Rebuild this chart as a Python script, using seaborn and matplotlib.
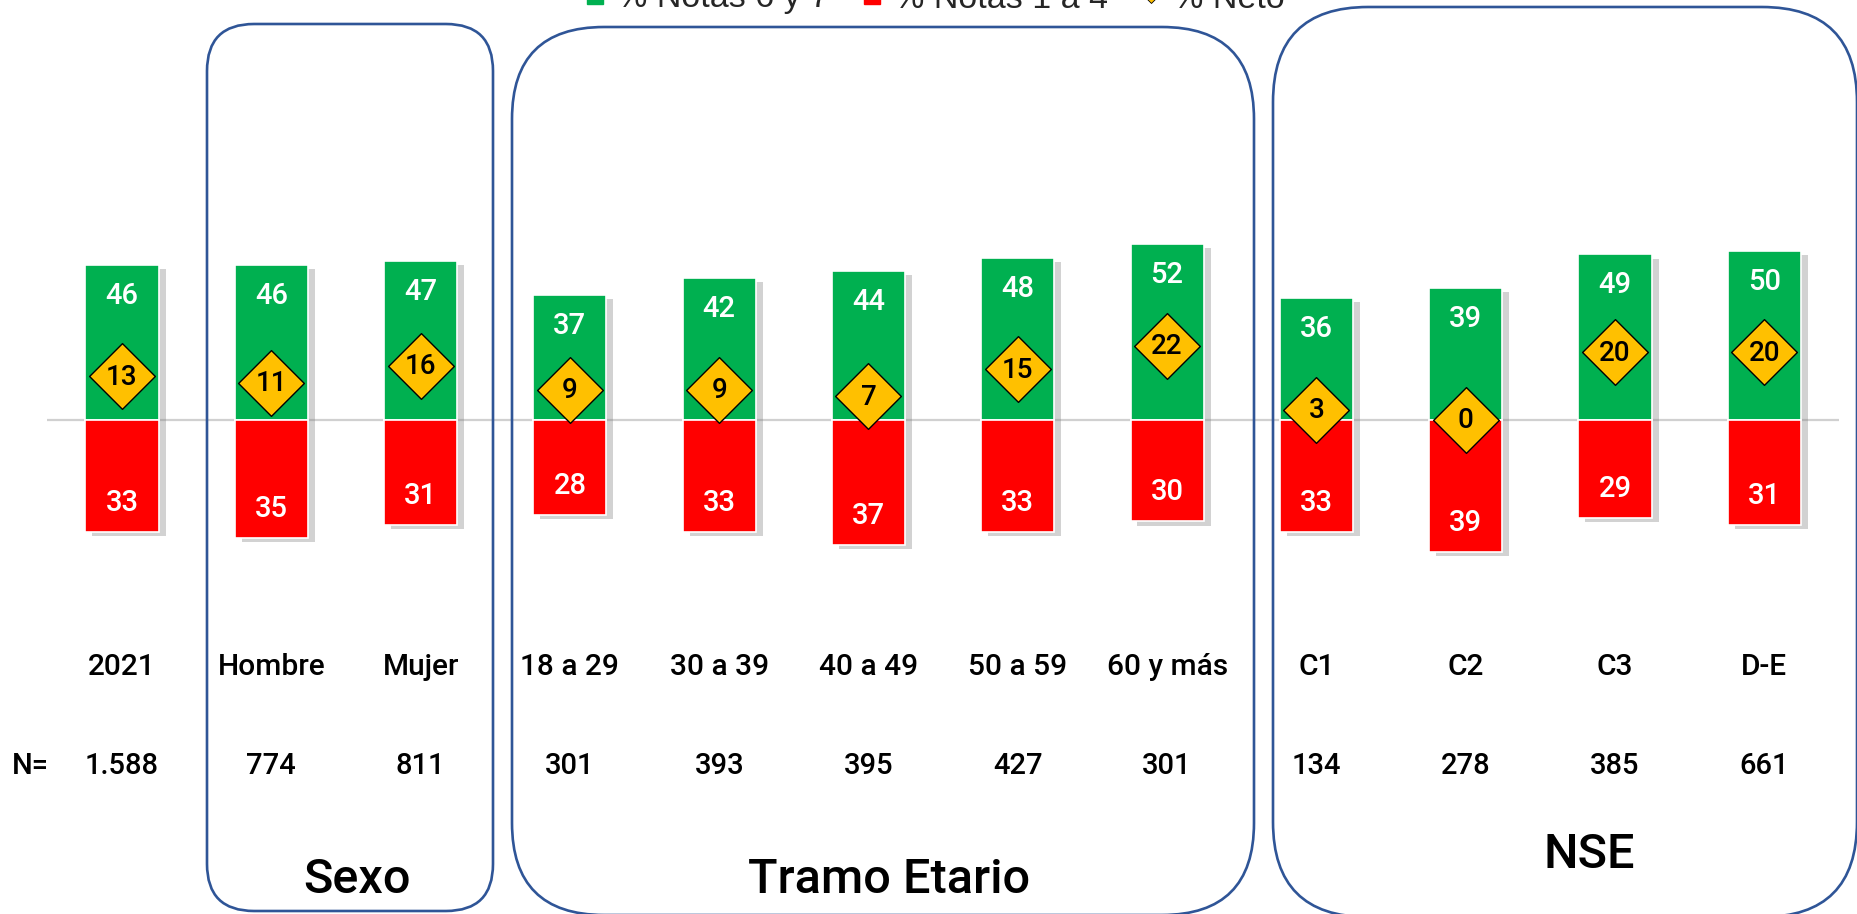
import matplotlib
matplotlib.use("Agg")
import matplotlib.pyplot as plt
import seaborn as sns
import pandas as pd
import numpy as np
from matplotlib.patches import FancyBboxPatch
from matplotlib.lines import Line2D
from matplotlib import patheffects as pe

# ---- data -------------------------------------------------------------
categorias = ["2021", "Hombre", "Mujer", "18 a 29", "30 a 39", "40 a 49",
              "50 a 59", "60 y más", "C1", "C2", "C3", "D-E"]
notas_6_7 = [46, 46, 47, 37, 42, 44, 48, 52, 36, 39, 49, 50]
notas_1_4 = [33, 35, 31, 28, 33, 37, 33, 30, 33, 39, 29, 31]
neto = [13, 11, 16, 9, 9, 7, 15, 22, 3, 0, 20, 20]
n_casos = ["1.588", "774", "811", "301", "393", "395", "427", "301",
           "134", "278", "385", "661"]
grupos = ["Sexo", "Tramo Etario", "NSE"]
series = ["% Notas 6 y 7", "% Notas 1 a 4", "% Neto"]

VERDE = "#00B050"
ROJO = "#FF0000"
AMARILLO = "#FFC000"
AZUL = "#2F5597"

sns.set_theme(style="white")
plt.rcParams["font.family"] = ["Roboto", "DejaVu Sans"]

W, H, DPI = 18.58, 9.14, 100
fig = plt.figure(figsize=(W, H), dpi=DPI)
ax = fig.add_axes([0, 0, 1, 1])

df = pd.DataFrame({"cat": categorias, "pos": notas_6_7,
                   "neg": [-v for v in notas_1_4], "neto": neto})

sns.barplot(data=df, x="cat", y="pos", color=VERDE, saturation=1,
            width=0.49, ax=ax, edgecolor="white", linewidth=1.2, zorder=3)
sns.barplot(data=df, x="cat", y="neg", color=ROJO, saturation=1,
            width=0.49, ax=ax, edgecolor="white", linewidth=1.2, zorder=3)

shadow = [pe.SimplePatchShadow(offset=(5, -3), shadow_rgbFace="#7f7f7f",
                               alpha=0.35), pe.Normal()]
for p in ax.patches:
    p.set_path_effects(shadow)

xpos = np.arange(len(categorias))
ax.hlines(0, -0.5, len(categorias) - 0.5, color="#D0D0D0", lw=1.6, zorder=1)

sns.scatterplot(x=xpos, y=df["neto"], marker="D", s=1120, color=AMARILLO,
                edgecolor="black", linewidth=1.0, ax=ax, zorder=5,
                legend=False)

lab_kw = dict(ha="center", va="center", fontweight="medium")
for x, vp, vn, vz in zip(xpos, notas_6_7, notas_1_4, neto):
    ax.annotate(f"{vp}", (x, vp), xytext=(0, -31), textcoords="offset pixels",
                color="white", fontsize=21, **lab_kw)
    ax.annotate(f"{vn}", (x, -vn), xytext=(0, 29), textcoords="offset pixels",
                color="white", fontsize=21, **lab_kw)
    ax.annotate(f"{vz}", (x, vz), xytext=(0, -1), textcoords="offset pixels",
                color="black", zorder=6, fontsize=20, **lab_kw)

# category and sample-size rows
tr = ax.get_xaxis_transform()
for x, c, n in zip(xpos, categorias, n_casos):
    ax.text(x, 1 - 667 / 914, c, transform=tr, color="black", fontsize=21.5,
            **lab_kw)
    ax.text(x, 1 - 766 / 914, n, transform=tr, color="black", fontsize=21,
            **lab_kw)
fig.text(30 / 1858, 1 - 766 / 914, "N=", ha="center", va="center",
         fontsize=21, fontweight="medium", color="black")

# axis scaling: 149.3 px per category, 3.38 px per point
ax.set_xlim(-122 / 149.3, (1858 - 122) / 149.3)
ax.set_ylim(-(914 - 420) / 3.38, 420 / 3.38)
ax.axis("off")

# rounded group frames (inches, measured from bottom-left)
marcos = [(2.07, 0.03, 4.93, 8.90, 0.47),
          (5.12, -0.01, 12.54, 8.87, 0.92),
          (12.73, -0.03, 18.57, 9.07, 0.95)]
for x0, y0, x1, y1, r in marcos:
    fig.patches.append(FancyBboxPatch(
        (x0, y0), x1 - x0, y1 - y0,
        boxstyle=f"round,pad=0,rounding_size={r}",
        transform=fig.dpi_scale_trans, fill=False, edgecolor=AZUL,
        linewidth=1.9, zorder=0))

for g, (gx, gy) in zip(grupos, [(357, 880), (889, 880), (1589, 855)]):
    fig.text(gx / 1858, 1 - gy / 914, g, ha="center", va="center",
             fontsize=35, fontweight="medium", color="black")

handles = [Line2D([], [], marker="s", ls="none", color=VERDE, markersize=12),
           Line2D([], [], marker="s", ls="none", color=ROJO, markersize=12),
           Line2D([], [], marker="D", ls="none", markerfacecolor=AMARILLO,
                  markeredgecolor="black", markeredgewidth=0.6, markersize=7)]
leg = fig.legend(handles, series, loc="center", ncol=3, frameon=False,
                 bbox_to_anchor=(0.5035, 1 + 1 / 914),
                 prop={"family": "Liberation Sans", "size": 24.5},
                 handlelength=0.5, handletextpad=0.4, columnspacing=1.0)

fig.savefig("out.png", dpi=DPI)
